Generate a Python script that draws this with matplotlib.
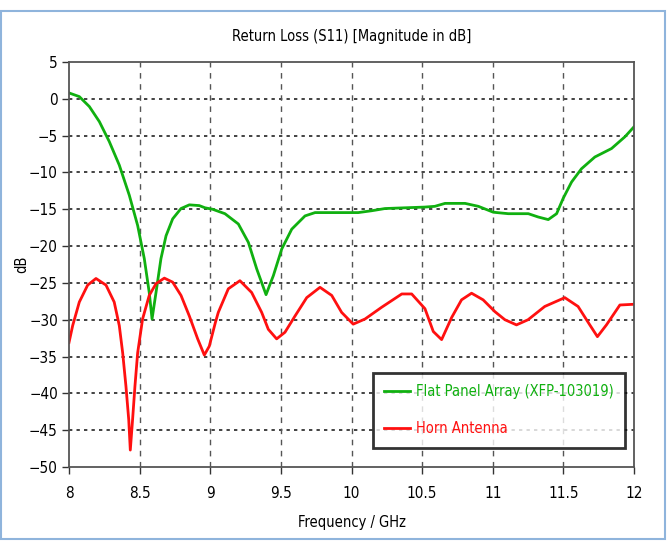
import matplotlib
matplotlib.use("Agg")
import matplotlib.pyplot as plt
from matplotlib.patches import Rectangle

# Flat Panel Array (XFP-103019)
fpa_f = [8.0, 8.073, 8.144, 8.215, 8.285, 8.356, 8.427, 8.486, 8.533, 8.568, 8.588,
         8.616, 8.651, 8.687, 8.734, 8.793, 8.852, 8.922, 8.963, 9.017, 9.104, 9.199,
         9.27, 9.329, 9.395, 9.447, 9.506, 9.577, 9.671, 9.742, 10.048, 10.143, 10.237,
         10.52, 10.59, 10.662, 10.804, 10.898, 11.004, 11.11, 11.252, 11.322, 11.393,
         11.452, 11.499, 11.558, 11.628, 11.723, 11.841, 11.936, 12.0]
fpa_db = [0.8, 0.3, -1.05, -3.1, -5.8, -9.0, -13.1, -17.2, -21.7, -26.3, -29.9,
          -26.3, -21.7, -18.6, -16.3, -14.9, -14.4, -14.5, -14.8, -15.0, -15.6, -17.0,
          -19.5, -23.1, -26.6, -24.0, -20.4, -17.7, -15.9, -15.45, -15.45, -15.2, -14.9,
          -14.7, -14.6, -14.2, -14.2, -14.6, -15.4, -15.6, -15.6, -16.05, -16.4,
          -15.6, -13.5, -11.3, -9.5, -7.9, -6.75, -5.15, -3.8]

# Horn Antenna
horn_f = [8.0, 8.026, 8.073, 8.132, 8.191, 8.262, 8.32, 8.356, 8.38, 8.403, 8.423, 8.434,
          8.45, 8.467, 8.486, 8.521, 8.568, 8.616, 8.675, 8.734, 8.793, 8.852, 8.911,
          8.958, 8.993, 9.036, 9.057, 9.128, 9.21, 9.293, 9.364, 9.411, 9.47, 9.529,
          9.6, 9.683, 9.777, 9.86, 9.93, 10.012, 10.096, 10.214, 10.356, 10.426, 10.52,
          10.579, 10.638, 10.709, 10.779, 10.85, 10.932, 11.015, 11.086, 11.168, 11.25,
          11.368, 11.51, 11.604, 11.687, 11.741, 11.805, 11.9, 12.0]
horn_db = [-33.1, -30.8, -27.6, -25.3, -24.4, -25.3, -27.6, -30.8, -34.5, -39.0, -43.6, -47.7,
           -43.6, -39.0, -34.5, -29.9, -26.7, -25.1, -24.35, -24.9, -26.7, -29.5, -32.6,
           -34.8, -33.6, -30.4, -29.0, -25.8, -24.7, -26.3, -29.0, -31.3, -32.6, -31.7,
           -29.5, -27.0, -25.6, -26.7, -29.0, -30.6, -29.9, -28.3, -26.5, -26.5, -28.5,
           -31.6, -32.7, -29.7, -27.3, -26.4, -27.3, -28.9, -30.0, -30.7, -30.0,
           -28.2, -27.0, -28.2, -30.7, -32.3, -30.7, -28.0, -27.9]

xticks = [8, 8.5, 9, 9.5, 10, 10.5, 11, 11.5, 12]
xticklabels = ["8", "8.5", "9", "9.5", "10", "10.5", "11", "11.5", "12"]
yticks = list(range(5, -55, -5))

plt.rcParams['font.family'] = ['DejaVu Sans']
plt.rcParams['font.stretch'] = 'condensed'

fig = plt.figure(figsize=(6.67, 5.42), dpi=100)
fig.patch.set_facecolor('white')
W, H = 667, 542
fig.add_artist(Rectangle((1.5 / W, 3.0 / H), 663.0 / W, 528.0 / H, transform=fig.transFigure,
                         fill=False, edgecolor='#8fb4dc', linewidth=1.5))

ax = fig.add_axes([69 / W, 1 - 467 / H, 565 / W, 405 / H])
ax.plot(fpa_f, fpa_db, color='#10b010', lw=2.0, label='Flat Panel Array (XFP-103019)')
ax.plot(horn_f, horn_db, color='#ff1010', lw=2.0, label='Horn Antenna')

ax.set_xlim(8, 12)
ax.set_ylim(-50, 5)
ax.set_xticks(xticks)
ax.set_xticklabels(xticklabels)
ax.set_yticks(yticks)
ax.tick_params(direction='out', length=5, width=1, color='#333333', labelsize=11, pad=3)
ax.tick_params(axis='x', pad=9)

for y in yticks[1:-1]:
    ax.axhline(y, color='#222222', lw=1.2, ls=(0, (2, 2.5)), zorder=0.5)
for x in xticks[1:-1]:
    ax.axvline(x, color='#555555', lw=1.0, ls=(0, (4, 4)), zorder=0.5)

for s in ax.spines.values():
    s.set_color('#555555')
    s.set_linewidth(1.3)

ax.set_title('Return Loss (S11) [Magnitude in dB]', fontsize=10.5, y=1.062, va='center', pad=0)
ax.set_xlabel('Frequency / GHz', fontsize=10.5)
ax.xaxis.set_label_coords(0.5, -0.138)
ax.xaxis.label.set_va('center')
ax.set_ylabel('dB', fontsize=10.5)
ax.yaxis.set_label_coords(-0.083, 0.5)
ax.yaxis.label.set_va('center')

leg = ax.legend(loc='lower right', bbox_to_anchor=(0.984, 0.047), fontsize=10.5,
                labelcolor='linecolor', frameon=True, fancybox=False, borderpad=0.8,
                handlelength=1.8, labelspacing=1.5, handletextpad=0.35, borderaxespad=0)
leg.get_frame().set_edgecolor('black')
leg.get_frame().set_linewidth(2.0)

fig.savefig('out.png', dpi=100)
